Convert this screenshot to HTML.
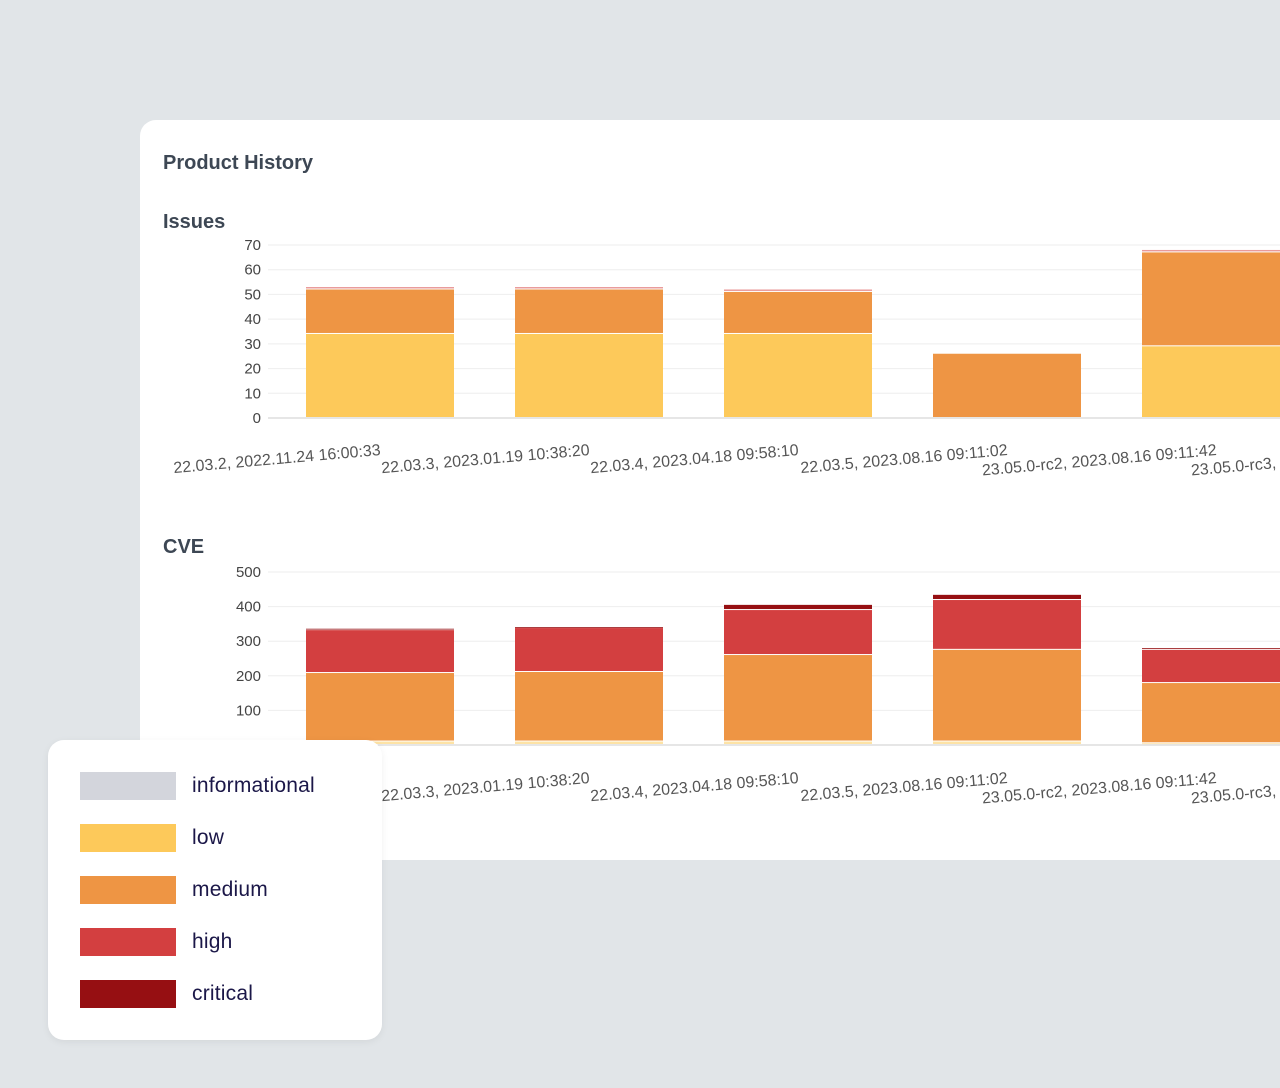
<!DOCTYPE html>
<html><head><meta charset="utf-8">
<style>
html,body{margin:0;padding:0;width:1280px;height:1088px;overflow:hidden;background:#e1e5e8;font-family:"Liberation Sans",sans-serif;}
svg{position:absolute;left:0;top:0}
.legend{position:absolute;left:48px;top:740px;width:334px;height:300px;background:#fff;border-radius:16px;box-shadow:0 2px 8px rgba(0,0,0,0.06)}
.li{position:absolute;left:32px;height:28px;display:flex;align-items:center}
.sw{width:96px;height:28px;margin-right:16px}
.lt{font-size:21px;color:#1b1748;letter-spacing:0.2px}
</style></head><body>
<svg id="chart" width="1280" height="1088">
  <rect x="140" y="120" width="1160" height="740" rx="16" fill="#fff"/>
  <text x="163" y="169" font-size="20" font-weight="bold" fill="#3d4754">Product History</text>
  <text x="163" y="228" font-size="20" font-weight="bold" fill="#3d4754">Issues</text>
  <text x="163" y="553" font-size="20" font-weight="bold" fill="#3d4754">CVE</text>
  <g id="issues"></g>
  <g id="cve"></g>
</svg>
<div class="legend">
  <div class="li" style="top:32px"><div class="sw" style="background:#d3d5dc"></div><span class="lt">informational</span></div>
  <div class="li" style="top:84px"><div class="sw" style="background:#fdc95a"></div><span class="lt">low</span></div>
  <div class="li" style="top:136px"><div class="sw" style="background:#ee9544"></div><span class="lt">medium</span></div>
  <div class="li" style="top:188px"><div class="sw" style="background:#d33f40"></div><span class="lt">high</span></div>
  <div class="li" style="top:240px"><div class="sw" style="background:#960f12"></div><span class="lt">critical</span></div>
</div>
<script>
const categories = ["22.03.2, 2022.11.24 16:00:33","22.03.3, 2023.01.19 10:38:20","22.03.4, 2023.04.18 09:58:10","22.03.5, 2023.08.16 09:11:02","23.05.0-rc2, 2023.08.16 09:11:42","23.05.0-rc3, 2023.08.17 10:02:11"];
const issuesLow = [34,34,34,0,29,29];
const issuesMedium = [18,18,17,26,38,38];
const issuesHigh = [1,1,1,0,1,1];
const issuesTicks = [0,10,20,30,40,50,60,70];
const cveInfo = [0,0,0,0,0,0];
const cveLow = [10,10,10,10,5,5];
const cveMedium = [198,201,250,265,174,174];
const cveHigh = [124,127,130,144,96,96];
const cveCritical = [4,3,15,15,5,5];
const cveTicks = [0,100,200,300,400,500];
const colors = {info:"#d3d5dc",low:"#fdc95a",medium:"#ee9544",high:"#d33f40",critical:"#960f12"};
const NS="http://www.w3.org/2000/svg";
function mk(tag,attrs,parent){const e=document.createElementNS(NS,tag);for(const k in attrs)e.setAttribute(k,attrs[k]);parent.appendChild(e);return e;}
function draw(gid,ticks,maxV,y0,y1,series,labelY){
  const g=document.getElementById(gid);
  const yS=v=>y0-(v/maxV)*(y0-y1);
  const xS=i=>306+i*209;
  ticks.forEach(t=>{
    const ln=mk('line',{x1:268,x2:1280,y1:yS(t),y2:yS(t),stroke:t===0?'#ccc':'#eeeeee','stroke-width':1},g);
    
    
    const tx=mk('text',{x:261,y:yS(t)+5,'text-anchor':'end','font-size':15,fill:'#444'},g);
    tx.textContent=t;
    
    
  });
  categories.forEach((c,i)=>{
    let acc=0;
    series.forEach(s=>{
      const v=s.vals[i]; if(!v) return;
      const yt=yS(acc+v), yb=yS(acc);
      const r=mk('rect',{x:xS(i),y:yt,width:148,height:Math.max(yb-yt-1,0.8),fill:s.color},g);
      
      
      acc+=v;
    });
    const cx=xS(i)+75;
    const tx=mk('text',{x:cx,y:labelY,'text-anchor':'end','font-size':16,fill:'#555',transform:'rotate(-5 '+cx+' '+labelY+')'},g);
    tx.textContent=c;
    
    
  });
}
draw('issues',issuesTicks,70,418,245,[
  {name:'low',vals:issuesLow,color:colors.low},
  {name:'medium',vals:issuesMedium,color:colors.medium},
  {name:'high',vals:issuesHigh,color:'#e99a9a'}],455);
draw('cve',cveTicks,500,745,572,[
  {name:'informational',vals:cveInfo,color:colors.info},
  {name:'low',vals:cveLow,color:'#fde3a6'},
  {name:'medium',vals:cveMedium,color:colors.medium},
  {name:'high',vals:cveHigh,color:colors.high},
  {name:'critical',vals:cveCritical,color:colors.critical}],783);
</script>
</body></html>
